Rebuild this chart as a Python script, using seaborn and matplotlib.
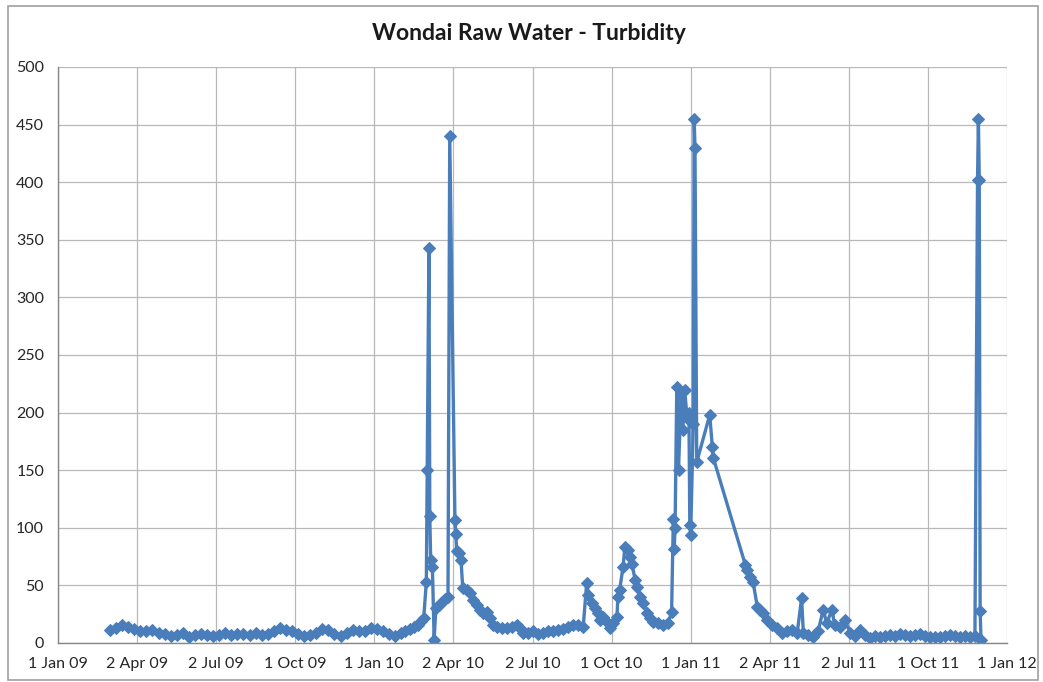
import pandas as pd
import numpy as np
import matplotlib
matplotlib.use("Agg")
import matplotlib.pyplot as plt
import matplotlib.dates as mdates
from matplotlib.patches import Rectangle
import seaborn as sns

# Turbidity readings (NTU)
sample_dates = [
    # 2009 - early 2010, roughly weekly
    "2009-03-02", "2009-03-09", "2009-03-16", "2009-03-23", "2009-03-30",
    "2009-04-06", "2009-04-13", "2009-04-20", "2009-04-27", "2009-05-04",
    "2009-05-11", "2009-05-18", "2009-05-25", "2009-06-01", "2009-06-08",
    "2009-06-15", "2009-06-22", "2009-06-29", "2009-07-06", "2009-07-13",
    "2009-07-20", "2009-07-27", "2009-08-03", "2009-08-10", "2009-08-17",
    "2009-08-24", "2009-08-31", "2009-09-07", "2009-09-14", "2009-09-21",
    "2009-09-28", "2009-10-05", "2009-10-12", "2009-10-19", "2009-10-26",
    "2009-11-02", "2009-11-09", "2009-11-16", "2009-11-23", "2009-11-30",
    "2009-12-07", "2009-12-14", "2009-12-21", "2009-12-28", "2010-01-04",
    "2010-01-11", "2010-01-18", "2010-01-25", "2010-02-01",
    # Feb - Apr 2010 event
    "2010-02-05", "2010-02-11", "2010-02-16", "2010-02-20", "2010-02-24",
    "2010-02-27", "2010-03-02", "2010-03-03", "2010-03-05", "2010-03-06",
    "2010-03-07", "2010-03-09", "2010-03-11", "2010-03-13", "2010-03-17",
    "2010-03-20", "2010-03-24", "2010-03-27", "2010-03-29", "2010-04-04",
    "2010-04-05", "2010-04-06", "2010-04-09", "2010-04-11",
    # Apr - Dec 2010
    "2010-04-13", "2010-04-18", "2010-04-21", "2010-04-25", "2010-04-29",
    "2010-05-03", "2010-05-06", "2010-05-11", "2010-05-14", "2010-05-18",
    "2010-05-23", "2010-05-28", "2010-06-03", "2010-06-09", "2010-06-15",
    "2010-06-18", "2010-06-22", "2010-06-27", "2010-07-03", "2010-07-09",
    "2010-07-15", "2010-07-20", "2010-07-26", "2010-08-01", "2010-08-07",
    "2010-08-12", "2010-08-18", "2010-08-24", "2010-08-30", "2010-09-03",
    "2010-09-05", "2010-09-09", "2010-09-13", "2010-09-16", "2010-09-18",
    "2010-09-22", "2010-09-26", "2010-09-30", "2010-10-03", "2010-10-08",
    "2010-10-09", "2010-10-11", "2010-10-15", "2010-10-17", "2010-10-21",
    "2010-10-23", "2010-10-25", "2010-10-29", "2010-10-31", "2010-11-04",
    "2010-11-07", "2010-11-12", "2010-11-15", "2010-11-19", "2010-11-24",
    "2010-11-30", "2010-12-06", "2010-12-10",
    # Dec 2010 - Jan 2011 floods
    "2010-12-12", "2010-12-13", "2010-12-14", "2010-12-16", "2010-12-18",
    "2010-12-21", "2010-12-23", "2010-12-25", "2010-12-28", "2010-12-30",
    "2010-12-31", "2011-01-01", "2011-01-04", "2011-01-05", "2011-01-06",
    "2011-01-08", "2011-01-23", "2011-01-26", "2011-01-27",
    # Mar - Dec 2011
    "2011-03-05", "2011-03-07", "2011-03-10", "2011-03-14", "2011-03-19",
    "2011-03-22", "2011-03-25", "2011-03-30", "2011-04-05", "2011-04-11",
    "2011-04-16", "2011-04-22", "2011-04-28", "2011-05-04", "2011-05-09",
    "2011-05-11", "2011-05-16", "2011-05-22", "2011-05-28", "2011-06-03",
    "2011-06-07", "2011-06-13", "2011-06-16", "2011-06-22", "2011-06-28",
    "2011-07-04", "2011-07-10", "2011-07-15", "2011-07-21", "2011-07-27",
    "2011-08-02", "2011-08-07", "2011-08-13", "2011-08-19", "2011-08-25",
    "2011-08-30", "2011-09-05", "2011-09-11", "2011-09-17", "2011-09-23",
    "2011-09-28", "2011-10-04", "2011-10-10", "2011-10-16", "2011-10-21",
    "2011-10-27", "2011-11-02", "2011-11-08", "2011-11-13", "2011-11-19",
    "2011-11-25", "2011-11-28", "2011-11-29", "2011-11-30", "2011-12-01",
    "2011-12-02",
]

turbidity = [
    # 2009 - early 2010
    11, 13, 16, 14, 12, 10, 10, 11, 9, 8,
    6, 7, 9, 5, 7, 8, 7, 6, 7, 9,
    7, 8, 8, 7, 9, 7, 8, 10, 13, 11,
    10, 8, 6, 7, 9, 12, 11, 8, 6, 9,
    11, 10, 10, 13, 12, 10, 8, 6, 9,
    # Feb - Apr 2010 event
    10, 12, 14, 16, 19, 22, 53, 150, 343, 110,
    72, 66, 3, 30, 33, 36, 38, 40, 440, 107,
    95, 80, 78, 72,
    # Apr - Dec 2010
    48, 46, 43, 37, 33, 29, 26, 27, 22, 16,
    14, 13, 13, 14, 16, 13, 9, 9, 10, 8,
    9, 10, 10, 11, 12, 14, 16, 16, 14, 52,
    42, 35, 30, 26, 20, 23, 18, 13, 17, 23,
    40, 46, 66, 83, 81, 75, 69, 55, 49, 40,
    35, 26, 22, 18, 17, 16, 17, 27,
    # Dec 2010 - Jan 2011 floods
    108, 82, 100, 222, 150, 218, 185, 220, 195, 200,
    102, 94, 190, 455, 430, 157, 198, 170, 161,
    # Mar - Dec 2011
    68, 63, 57, 53, 31, 29, 26, 20, 16, 13,
    9, 10, 11, 9, 39, 9, 7, 5, 10, 29,
    17, 29, 16, 14, 20, 9, 6, 11, 7, 4,
    6, 5, 6, 7, 6, 8, 7, 6, 7, 8,
    6, 5, 5, 5, 6, 7, 6, 5, 6, 5,
    6, 402, 455, 402, 28, 3,
]

tick_labels = ["1 Jan 09", "2 Apr 09", "2 Jul 09", "1 Oct 09", "1 Jan 10",
               "2 Apr 10", "2 Jul 10", "1 Oct 10", "1 Jan 11", "2 Apr 11",
               "2 Jul 11", "1 Oct 11", "1 Jan 12"]
y_ticks = [0, 50, 100, 150, 200, 250, 300, 350, 400, 450, 500]

df = pd.DataFrame({"date": pd.to_datetime(sample_dates), "turbidity": turbidity})

sns.set_style("white")
plt.rcParams["font.family"] = ["Lato", "DejaVu Sans"]

fig = plt.figure(figsize=(10.43, 6.82), dpi=100)
ax = fig.add_axes([58 / 1043, 1 - 643 / 682, 949 / 1043, 576 / 682])

line_blue = "#4a7ebb"
sns.lineplot(data=df, x="date", y="turbidity", ax=ax, color=line_blue,
             linewidth=2.4, marker="D", markersize=6,
             markeredgecolor=line_blue, markerfacecolor=line_blue)

# Excel-style axis: major unit of 91.25 days starting 1 Jan 09
start = mdates.date2num(pd.Timestamp("2009-01-01"))
xticks = [start + 91.25 * i for i in range(len(tick_labels))]
ax.set_xlim(xticks[0], xticks[-1])
ax.set_xticks(xticks)
ax.set_xticklabels(tick_labels)
ax.set_ylim(0, 500)
ax.set_yticks(y_ticks)

ax.grid(True, color="#b8b8b8", linewidth=0.9)
ax.set_axisbelow(True)
ax.set_xlabel("")
ax.set_ylabel("")

for side in ["top", "right"]:
    ax.spines[side].set_visible(False)
for side in ["left", "bottom"]:
    ax.spines[side].set_color("#868686")
    ax.spines[side].set_linewidth(1.0)

ax.tick_params(axis="both", which="major", direction="out", length=5,
               width=1.0, color="#868686", labelsize=11.5, labelcolor="#262626")
ax.tick_params(axis="y", pad=5)
ax.tick_params(axis="x", pad=5)

fig.text(529 / 1043, 1 - 33 / 682, "Wondai Raw Water - Turbidity",
         ha="center", va="center", fontsize=16.5, fontweight="bold",
         color="#1a1a1a")

# chart area border
fig.patches.append(Rectangle((8 / 1043, 2 / 682), 1030 / 1043, 674 / 682,
                             transform=fig.transFigure, fill=False,
                             edgecolor="#a0a0a0", linewidth=1.2))

fig.savefig("out.png", dpi=100)
